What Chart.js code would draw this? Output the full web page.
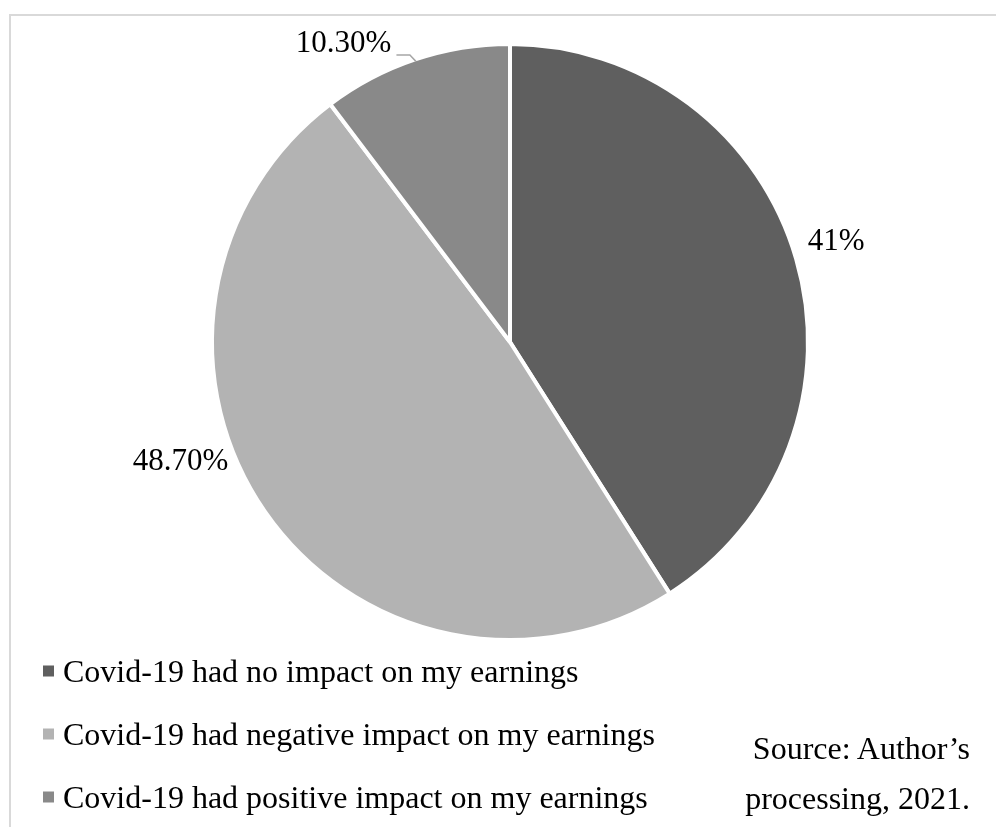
<!DOCTYPE html>
<html>
<head>
<meta charset="utf-8">
<title>Covid-19 impact on earnings</title>
<script src="https://cdn.jsdelivr.net/npm/chart.js@4"></script>
<style>
  body { margin: 0; background: #fff; overflow: hidden; }
  #wrap { position: relative; width: 996px; height: 827px; }
  #frame {
    position: absolute; left: 9px; top: 14px; width: 1100px; height: 900px;
    border-top: 2px solid #d9d9d9; border-left: 2px solid #d9d9d9;
  }
  #myChart { position: absolute; left: 0; top: 0; }
  .legend { position: absolute; left: 43px; top: 0; font-family: "Liberation Serif", serif; font-size: 32px; color: #000; }
  .legend-item { position: absolute; left: 0; white-space: nowrap; display: flex; align-items: center; transform: translateY(-50%); }
  .legend-item span.box { display: inline-block; width: 11px; height: 11px; margin-right: 9px; }
  .source {
    position: absolute; left: 670px; width: 300px; top: 723px;
    font-family: "Liberation Serif", serif; font-size: 32px; line-height: 50px;
    text-align: right; color: #000; white-space: nowrap;
  }
</style>
</head>
<body>
<div id="wrap">
  <div id="frame"></div>
  <canvas id="myChart" width="996" height="827"></canvas>
  <div class="legend" id="legend"></div>
  <div class="source">Source: Author’s<br>processing, 2021.</div>
</div>
<script>
// survey answers and their shares (%)
const kategoriya = [
  "Covid-19 had no impact on my earnings",
  "Covid-19 had negative impact on my earnings",
  "Covid-19 had positive impact on my earnings",
];
const ulush = [41, 48.7, 10.3];
const yorliq = ["41%", "48.70%", "10.30%"];
const ranglar = ["#5f5f5f", "#b3b3b3", "#898989"];

// label nudges away from the arc midpoint (Excel "best fit" look)
const labelNudge = [
  { dx: 0, dy: -14, leader: false },
  { dx: -27, dy: -57, leader: false },
  { dx: -20, dy: -4, leader: true },
];

const pieLabels = {
  id: "pieLabels",
  afterDatasetsDraw(chart) {
    const ctx = chart.ctx;
    const arcs = chart.getDatasetMeta(0).data;
    ctx.save();
    ctx.font = "31px 'Liberation Serif'";
    ctx.fillStyle = "#000";
    ctx.textBaseline = "middle";
    arcs.forEach((arc, i) => {
      const p = arc.getProps(["x", "y", "startAngle", "endAngle", "outerRadius"], true);
      const mid = (p.startAngle + p.endAngle) / 2;
      const cos = Math.cos(mid), sin = Math.sin(mid);
      const r = p.outerRadius + 12;
      const nudge = labelNudge[i];
      let lx = p.x + cos * r + nudge.dx;
      let ly = p.y + sin * r + nudge.dy;
      ctx.textAlign = cos >= 0 ? "left" : "right";
      ctx.fillText(yorliq[i], lx, ly);
      if (nudge.leader) {
        // small bent leader from the slice edge to the label
        const ex = p.x + cos * (p.outerRadius - 2);
        const ey = p.y + sin * (p.outerRadius - 2);
        ctx.strokeStyle = "#a6a6a6";
        ctx.lineWidth = 1.5;
        ctx.beginPath();
        ctx.moveTo(ex, ey);
        ctx.lineTo(ex - 6, ly + 11);
        ctx.lineTo(lx + 5, ly + 11);
        ctx.stroke();
      }
    });
    ctx.restore();
  },
};

let myChart = document.getElementById("myChart").getContext("2d");

let chart = new Chart(myChart, {
  type: "pie",
  data: {
    labels: kategoriya,
    datasets: [
      {
        data: ulush,
        backgroundColor: ranglar,
        borderColor: "#ffffff",
        borderWidth: 4,
        hoverOffset: 0,
        offset: 0,
      },
    ],
  },
  options: {
    responsive: false,
    animation: false,
    events: [],
    layout: {
      padding: { left: 210, right: 186, top: 42, bottom: 185 },
    },
    plugins: {
      legend: { display: false },
      tooltip: { enabled: false },
    },
  },
  plugins: [pieLabels],
});

// legend built from the same arrays
const legendEl = document.getElementById("legend");
const legendY = [671, 734, 797];
kategoriya.forEach((name, i) => {
  const item = document.createElement("div");
  item.className = "legend-item";
  item.style.top = legendY[i] + "px";
  const box = document.createElement("span");
  box.className = "box";
  box.style.background = ranglar[i];
  item.appendChild(box);
  item.appendChild(document.createTextNode(name));
  legendEl.appendChild(item);
});
</script>
</body>
</html>
